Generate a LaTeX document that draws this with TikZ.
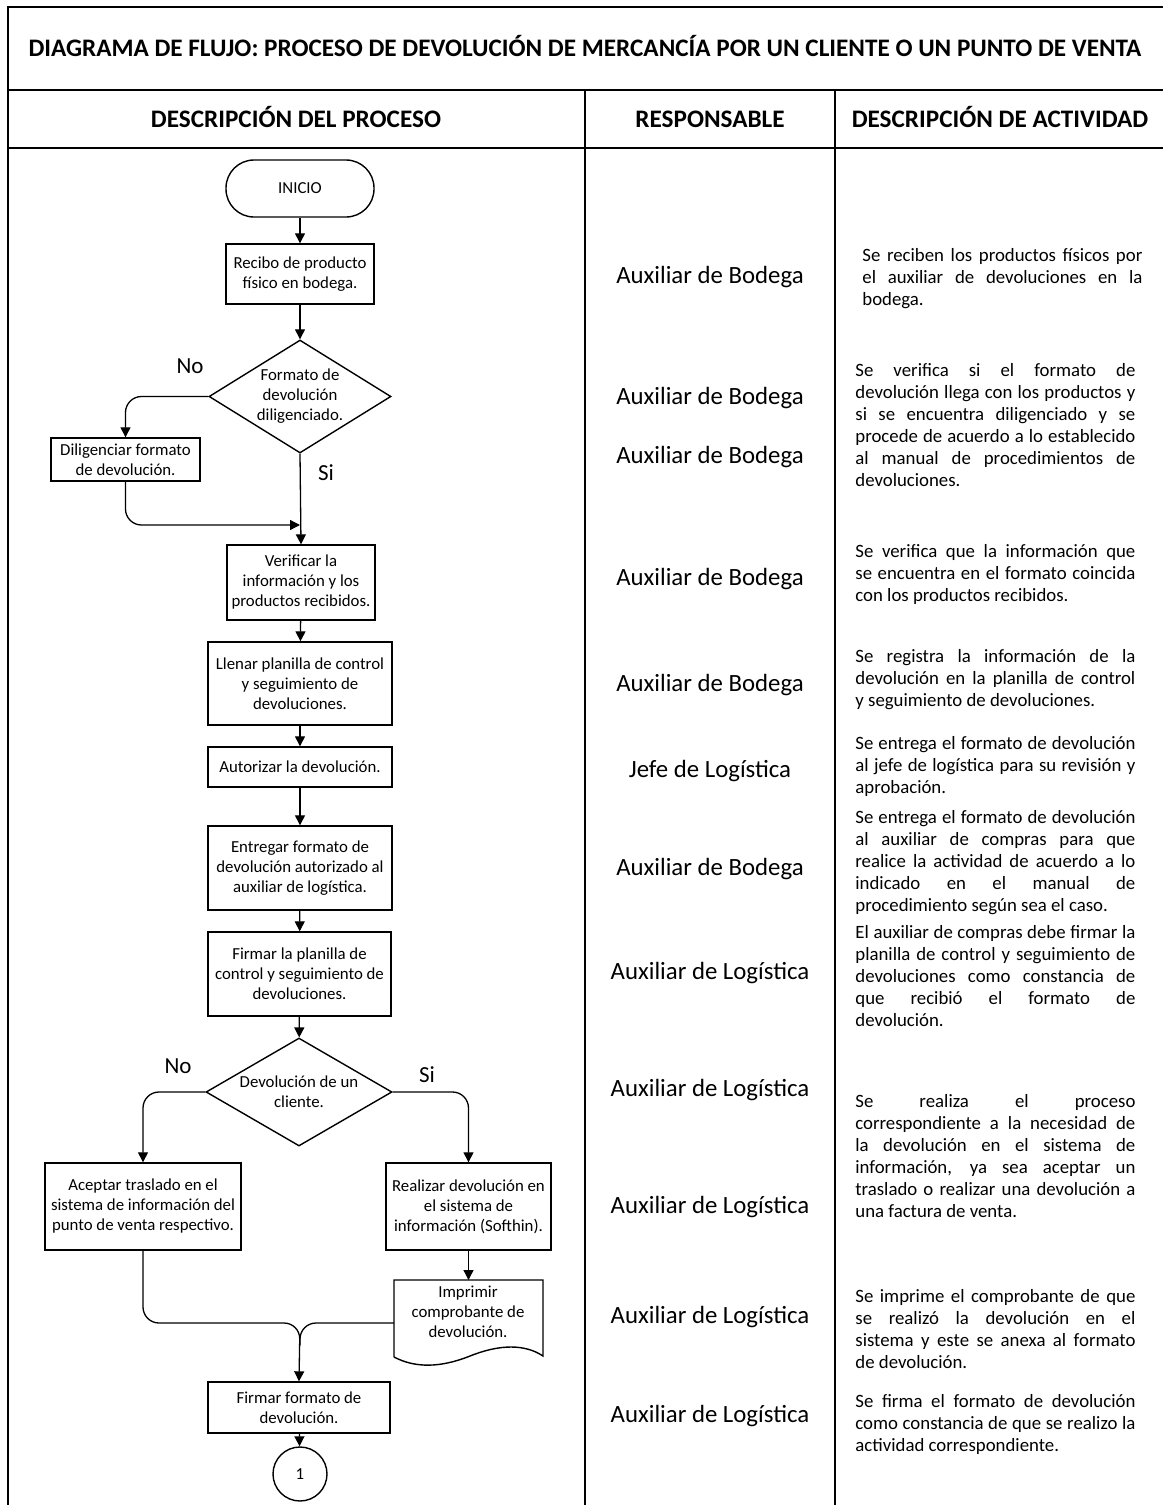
\documentclass[tikz,border=0pt]{standalone}
\usepackage{fontspec}
\setmainfont{Carlito}
\usetikzlibrary{shapes.geometric,arrows.meta}
\begin{document}
\begin{tikzpicture}[x=0.5pt,y=-0.5pt,
  box/.style={draw,line width=0.7pt,inner sep=1pt,align=center,font=\fontsize{8.4}{10}\selectfont},
  dia/.style={draw,diamond,line width=0.7pt,inner sep=0pt,align=center,font=\fontsize{8.4}{10}\selectfont},
  arr/.style={line width=0.65pt,-{Triangle[length=5pt,width=5pt]}},
  conn/.style={line width=0.65pt},
  tbl/.style={line width=1pt},
  hdr/.style={anchor=base,font=\fontsize{12.6}{14}\selectfont\bfseries},
  resp/.style={anchor=base,font=\fontsize{12.4}{14}\selectfont},
  desc/.style={anchor=base west,text width=140pt,align=justify,inner sep=0pt,
    font=\fontsize{9.4}{11}\selectfont},
  yn/.style={font=\fontsize{11.5}{13}\selectfont}]

\useasboundingbox (0,0) rectangle (1163,1505);

% table
\draw[tbl] (8,1505) -- (8,7) -- (1163,7);
\draw[tbl] (8,90) -- (1163,90);
\draw[tbl] (8,148) -- (1163,148);
\draw[tbl] (585,90) -- (585,1505);
\draw[tbl] (835,90) -- (835,1505);

\node[hdr] (title) at (585,56) {DIAGRAMA DE FLUJO: PROCESO DE DEVOLUCIÓN DE MERCANCÍA POR UN CLIENTE O UN PUNTO DE VENTA};
\node[hdr] (h1) at (296,127) {DESCRIPCIÓN DEL PROCESO};
\node[hdr] (h2) at (710,127) {RESPONSABLE};
\node[hdr] (h3) at (1000,127) {DESCRIPCIÓN DE ACTIVIDAD};

% flowchart
\node[box,rounded corners=14pt,minimum width=74pt,minimum height=28.5pt] (inicio) at (300,188.5) {INICIO};
\node[box,minimum width=74pt,minimum height=30pt] (recibo) at (300,274) {Recibo de producto\\físico en bodega.};
\node[dia,aspect=1.61,minimum width=91pt,minimum height=56.5pt] (d1) at (300,396.5) {Formato de\\devolución\\diligenciado.};
\node[box,minimum width=74.5pt,minimum height=21.5pt] (dilig) at (125.5,459.5) {Diligenciar formato\\de devolución.};
\node[box,minimum width=74pt,minimum height=37.5pt] (verif) at (301,582.5) {Verificar la\\información y los\\productos recibidos.};
\node[box,minimum width=92pt,minimum height=41.5pt] (llenar) at (300,683.5) {Llenar planilla de control\\y seguimiento de\\devoluciones.};
\node[box,minimum width=92pt,minimum height=20pt] (autor) at (300,767) {Autorizar la devolución.};
\node[box,minimum width=92pt,minimum height=42pt] (entreg) at (300,868) {Entregar formato de\\devolución autorizado al\\auxiliar de logística.};
\node[box,minimum width=91.5pt,minimum height=42pt] (firmarp) at (299.5,974) {Firmar la planilla de\\control y seguimiento de\\devoluciones.};
\node[dia,aspect=1.72,minimum width=93pt,minimum height=54pt] (d2) at (299,1092) {Devolución de un\\cliente.};
\node[box,minimum width=98pt,minimum height=43.5pt] (acept) at (143,1206.5) {Aceptar traslado en el\\sistema de información del\\punto de venta respectivo.};
\node[box,minimum width=82.5pt,minimum height=43.5pt] (realiz) at (468.5,1206.5) {Realizar devolución en\\el sistema de\\información (Softhin).};
\draw[line width=0.7pt] (394,1357) -- (394,1280) -- (543,1280) -- (543,1356)
  .. controls (525,1344) and (500,1344) .. (470,1356)
  .. controls (440,1368) and (415,1368) .. (394,1357);
\node[align=center,inner sep=0pt,font=\fontsize{8.4}{10}\selectfont] (impr) at (468,1312) {Imprimir\\comprobante de\\devolución.};
\coordinate (imptop) at (468.5,1280);
\coordinate (impw) at (394,1323);
\node[box,minimum width=91pt,minimum height=25.5pt] (firmarf) at (299,1407.5) {Firmar formato de\\devolución.};
\node[draw,circle,line width=0.7pt,minimum size=27pt,inner sep=0pt,font=\fontsize{8.4}{10}\selectfont] (fin) at (300,1474) {1};

% connectors
\coordinate (j1) at (300,525);
\coordinate (j2) at (300,1323);
\coordinate (j3) at (300,1345);
\draw[arr] (inicio) -- (recibo);
\draw[arr] (recibo) -- (d1);
\draw[arr,rounded corners=8pt] (d1.west) -| (dilig.north);
\draw[arr,rounded corners=8pt] (dilig.south) |- (j1);
\draw[arr] (d1.south) -- (verif.north);
\draw[arr] (verif) -- (llenar);
\draw[arr] (llenar) -- (autor);
\draw[arr] (autor) -- (entreg);
\draw[arr] (entreg) -- (firmarp);
\draw[arr] (firmarp) -- (d2);
\draw[arr,rounded corners=8pt] (d2.west) -| (acept.north);
\draw[arr,rounded corners=8pt] (d2.east) -| (realiz.north);
\draw[arr] (realiz.south) -- (imptop);
\draw[arr,rounded corners=8pt] (acept.south) |- (j2) -- (firmarf.north);
\draw[conn,rounded corners=8pt] (impw) -- (j2) -- (j3);
\draw[arr] (firmarf) -- (fin);

\node[yn] (no1) at (190,366) {No};
\node[yn] (si1) at (326,473) {Si};
\node[yn] (no2) at (178,1066) {No};
\node[yn] (si2) at (427,1075) {Si};

% responsables
\node[resp] (r1) at (710,283) {Auxiliar de Bodega};
\node[resp] (r2) at (710,404) {Auxiliar de Bodega};
\node[resp] (r3) at (710,463) {Auxiliar de Bodega};
\node[resp] (r4) at (710,585) {Auxiliar de Bodega};
\node[resp] (r5) at (710,691) {Auxiliar de Bodega};
\node[resp] (r6) at (710,777) {Jefe de Logística};
\node[resp] (r7) at (710,875) {Auxiliar de Bodega};
\node[resp] (r8) at (710,979) {Auxiliar de Logística};
\node[resp] (r9) at (710,1096) {Auxiliar de Logística};
\node[resp] (r10) at (710,1213) {Auxiliar de Logística};
\node[resp] (r11) at (710,1323) {Auxiliar de Logística};
\node[resp] (r12) at (710,1422) {Auxiliar de Logística};

% descriptions
\tikzset{every node/.append style={}}
\node[desc] (t1) at (862,261) {\tolerance=10000\relax Se reciben los productos físicos por\linebreak el auxiliar de devoluciones en la\linebreak bodega.};
\node[desc] (t2) at (855,376) {\tolerance=10000\relax Se verifica si el formato de\linebreak devolución llega con los productos y\linebreak si se encuentra diligenciado y se\linebreak procede de acuerdo a lo establecido\linebreak al manual de procedimientos de\linebreak devoluciones.};
\node[desc] (t3) at (855,557) {\tolerance=10000\relax Se verifica que la información que\linebreak se encuentra en el formato coincida\linebreak con los productos recibidos.};
\node[desc] (t4) at (855,662) {\tolerance=10000\relax Se registra la información de la\linebreak devolución en la planilla de control\linebreak y seguimiento de devoluciones.};
\node[desc] (t5) at (855,749) {\tolerance=10000\relax Se entrega el formato de devolución\linebreak al jefe de logística para su revisión y\linebreak aprobación.};
\node[desc] (t6) at (855,823) {\tolerance=10000\relax Se entrega el formato de devolución\linebreak al auxiliar de compras para que\linebreak realice la actividad de acuerdo a lo\linebreak indicado en el manual de\linebreak procedimiento según sea el caso.};
\node[desc] (t7) at (855,938) {\tolerance=10000\relax El auxiliar de compras debe firmar la\linebreak planilla de control y seguimiento de\linebreak devoluciones como constancia de\linebreak que recibió el formato de\linebreak devolución.};
\node[desc] (t8) at (855,1107) {\tolerance=10000\relax Se realiza el proceso\linebreak correspondiente a la necesidad de\linebreak la devolución en el sistema de\linebreak información, ya sea aceptar un\linebreak traslado o realizar una devolución a\linebreak una factura de venta.};
\node[desc] (t9) at (855,1302) {\tolerance=10000\relax Se imprime el comprobante de que\linebreak se realizó la devolución en el\linebreak sistema y este se anexa al formato\linebreak de devolución.};
\node[desc] (t10) at (855,1407) {\tolerance=10000\relax Se firma el formato de devolución\linebreak como constancia de que se realizo la\linebreak actividad correspondiente.};
\end{tikzpicture}
\end{document}
